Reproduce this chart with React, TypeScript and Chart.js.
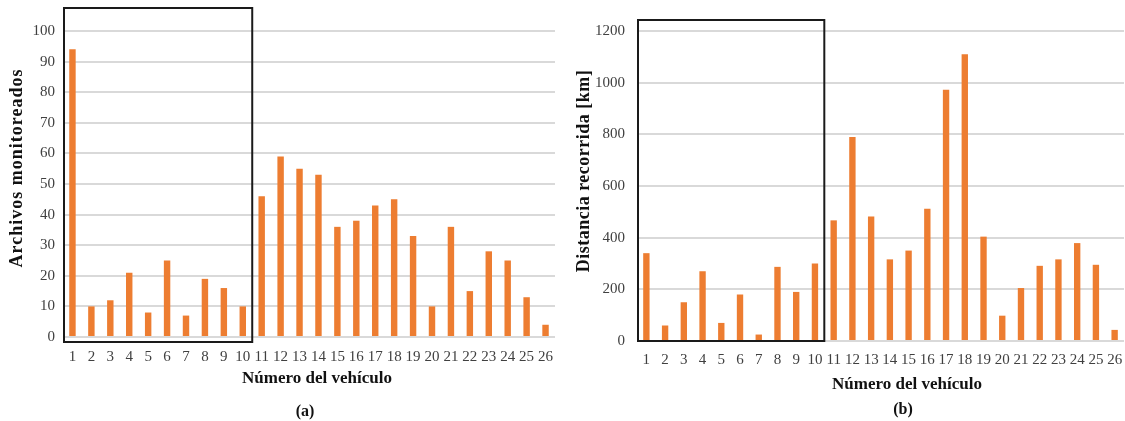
import { useEffect, useRef } from "react";
import { Chart, registerables } from "chart.js";

Chart.register(...registerables);

// Vehicle numbers on the category axis
const vehicles = ["1", "2", "3", "4", "5", "6", "7", "8", "9", "10", "11", "12", "13", "14", "15", "16", "17", "18", "19", "20", "21", "22", "23", "24", "25", "26"];

// (a) monitored files per vehicle
const archivosMonitoreados = [94, 10, 12, 21, 8, 25, 7, 19, 16, 10, 46, 59, 55, 53, 36, 38, 43, 45, 33, 10, 36, 15, 28, 25, 13, 4];

// (b) distance travelled per vehicle, km
const distanciaRecorrida = [340, 60, 150, 270, 70, 180, 25, 287, 190, 300, 467, 790, 482, 316, 350, 512, 973, 1110, 404, 98, 205, 291, 316, 379, 295, 43];

// Axis ranges
const archivosAxis = { max: 100, step: 10 };
const distanciaAxis = { max: 1200, step: 200 };

const BAR_COLOR = "#ED7D31";
const GRID_COLOR = "#d9d9d9";
const TEXT_COLOR = "#404040";
const SERIF = "'Liberation Serif', 'Times New Roman', serif";

type Panel = {
  left: number;
  width: number;
  values: number[];
  axis: { max: number; step: number };
  yWidth: number;
  xHeight: number;
  yPad: number;
  xPad: number;
  rightPad: number;
  boxTop: number;
  boxBottomExtra: number;
  yTitle: string;
  yTitleX: number;
  yTitleY: number;
  yTitleSpacing: string;
  xTitle: string;
  xTitleX: number;
  xTitleY: number;
  tag: string;
  tagX: number;
  tagY: number;
};

const panels: Panel[] = [
  {
    left: 0,
    width: 570,
    values: archivosMonitoreados,
    axis: archivosAxis,
    yWidth: 63,
    xHeight: 84,
    yPad: 8,
    xPad: 11,
    rightPad: 15,
    boxTop: 8,
    boxBottomExtra: 5,
    yTitle: "Archivos monitoreados",
    yTitleX: 17,
    yTitleY: 168,
    yTitleSpacing: "1px",
    xTitle: "Número del vehículo",
    xTitleX: 317,
    xTitleY: 379,
    tag: "(a)",
    tagX: 305,
    tagY: 412,
  },
  {
    left: 570,
    width: 570,
    values: distanciaRecorrida,
    axis: distanciaAxis,
    yWidth: 67,
    xHeight: 80,
    yPad: 12,
    xPad: 10,
    rightPad: 16,
    boxTop: 20,
    boxBottomExtra: 0,
    yTitle: "Distancia recorrida [km]",
    yTitleX: 14,
    yTitleY: 171,
    yTitleSpacing: "0.5px",
    xTitle: "Número del vehículo",
    xTitleX: 337,
    xTitleY: 385,
    tag: "(b)",
    tagX: 333,
    tagY: 410,
  },
];

// Draws the outline around vehicles 1-10 and the captions of a panel
function panelDecor(p: Panel) {
  return {
    id: "panelDecor",
    afterDraw(chart: Chart) {
      const { ctx, chartArea, scales } = chart;
      const x = scales.x;
      const y = scales.y;
      const right = (x.getPixelForValue(9) + x.getPixelForValue(10)) / 2;
      const bottom = y.getPixelForValue(0) + p.boxBottomExtra;
      ctx.save();
      ctx.strokeStyle = "#1a1a1a";
      ctx.lineWidth = 2;
      ctx.strokeRect(chartArea.left + 1, p.boxTop, right - chartArea.left - 1, bottom - p.boxTop);

      ctx.fillStyle = "#111";
      ctx.textAlign = "center";
      ctx.textBaseline = "middle";
      ctx.font = `bold 17px ${SERIF}`;
      ctx.fillText(p.xTitle, p.xTitleX, p.xTitleY);
      ctx.font = `bold 16px ${SERIF}`;
      ctx.fillText(p.tag, p.tagX, p.tagY);

      ctx.translate(p.yTitleX, p.yTitleY);
      ctx.rotate(-Math.PI / 2);
      ctx.font = `bold 18px ${SERIF}`;
      (ctx as any).letterSpacing = p.yTitleSpacing;
      ctx.fillText(p.yTitle, 0, 0);
      ctx.restore();
    },
  };
}

function BarPanel({ p }: { p: Panel }) {
  const ref = useRef<HTMLCanvasElement | null>(null);

  useEffect(() => {
    if (!ref.current) return;
    const chart = new Chart(ref.current, {
      type: "bar",
      data: {
        labels: vehicles,
        datasets: [
          {
            data: p.values,
            backgroundColor: BAR_COLOR,
            borderWidth: 0,
            barPercentage: 0.34,
            categoryPercentage: 1,
          },
        ],
      },
      options: {
        responsive: false,
        animation: false,
        events: [],
        layout: { padding: { top: 31, left: 0, right: p.rightPad, bottom: 0 } },
        plugins: {
          legend: { display: false },
          tooltip: { enabled: false },
        },
        scales: {
          x: {
            grid: { display: false, drawTicks: false },
            border: { display: false },
            ticks: {
              padding: p.xPad,
              maxRotation: 0,
              autoSkip: false,
              color: TEXT_COLOR,
              font: { family: SERIF, size: 15 },
            },
            afterFit(scale: any) {
              scale.height = p.xHeight;
            },
          },
          y: {
            min: 0,
            max: p.axis.max,
            grid: { color: GRID_COLOR, lineWidth: 2, drawTicks: false },
            border: { display: false },
            ticks: {
              stepSize: p.axis.step,
              padding: p.yPad,
              color: TEXT_COLOR,
              font: { family: SERIF, size: 15 },
              callback: (v: any) => String(v),
            },
            afterFit(scale: any) {
              scale.width = p.yWidth;
            },
          },
        },
      },
      plugins: [panelDecor(p)],
    });
    return () => chart.destroy();
  }, [p]);

  return (
    <canvas
      ref={ref}
      width={p.width}
      height={421}
      style={{ position: "absolute", left: p.left, top: 0, width: p.width, height: 421 }}
    />
  );
}

export default function App() {
  return (
    <div
      style={{
        position: "fixed",
        left: 0,
        top: 0,
        width: 1125,
        height: 421,
        overflow: "hidden",
        background: "#fff",
      }}
    >
      {panels.map((p) => (
        <BarPanel key={p.tag} p={p} />
      ))}
    </div>
  );
}
